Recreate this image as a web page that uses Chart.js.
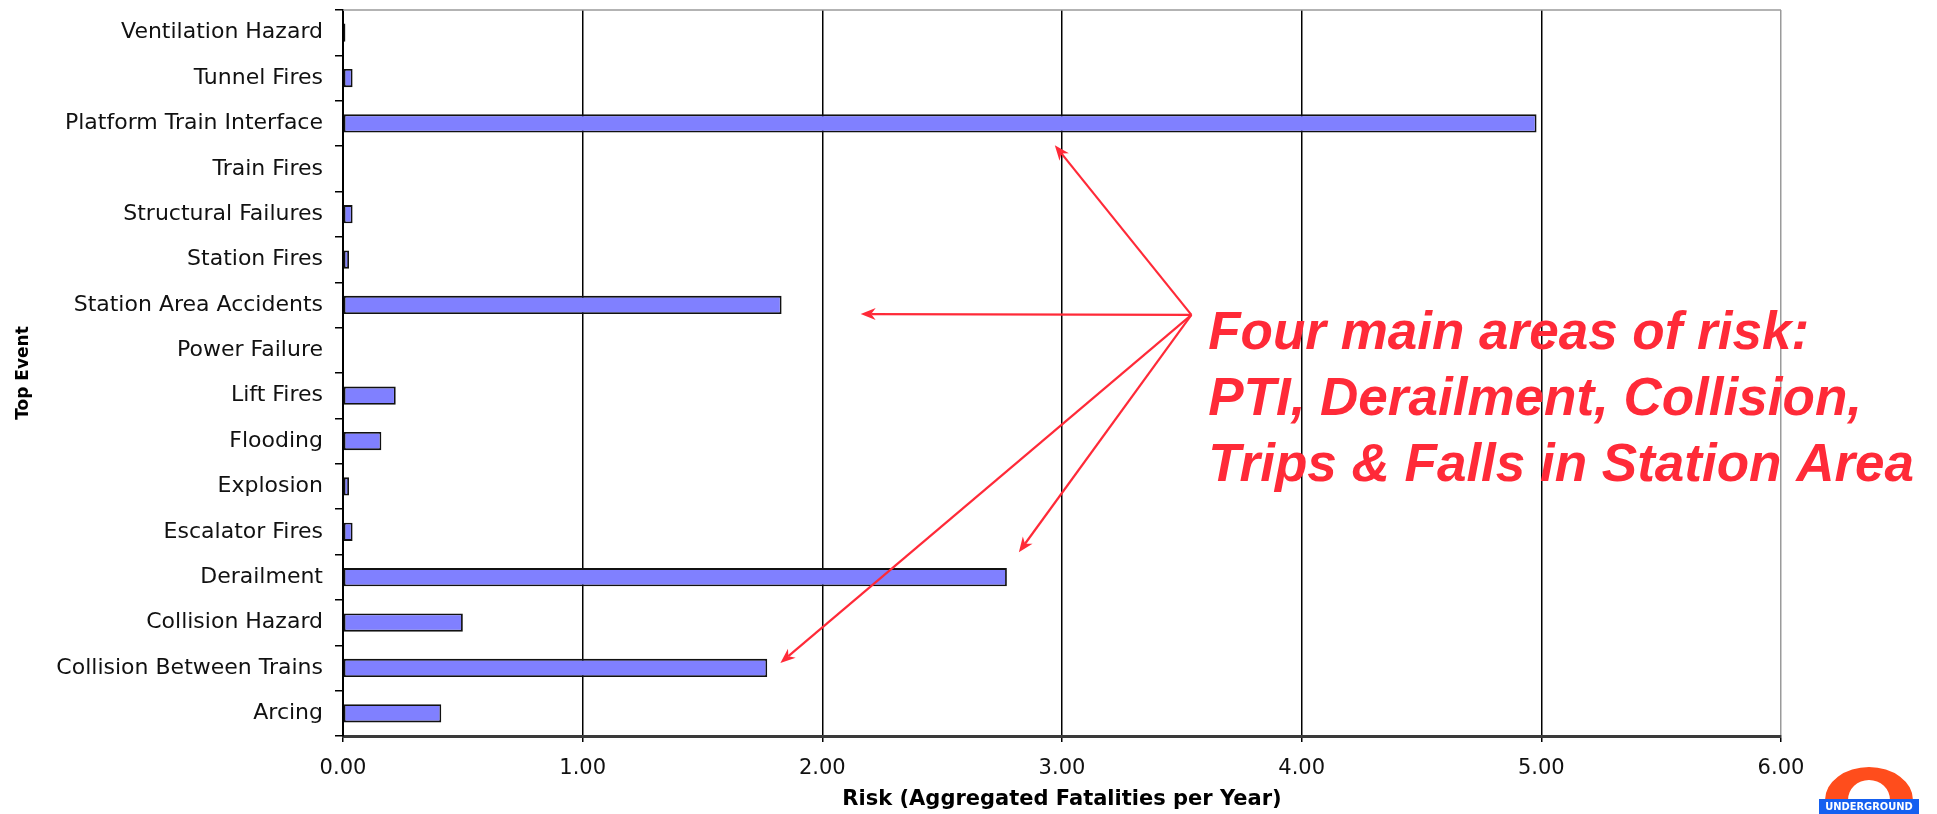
<!DOCTYPE html>
<html>
<head>
<meta charset="UTF-8">
<title>Top Event Risk</title>
<style>
  html, body { margin: 0; padding: 0; background: #fff; }
  #wrap { width: 1937px; height: 814px; position: relative; }
</style>
<script src="https://cdnjs.cloudflare.com/ajax/libs/Chart.js/4.4.1/chart.umd.min.js"></script>
</head>
<body>
<div id="wrap"><canvas id="riskChart"></canvas></div>
<script>
const events = ["Ventilation Hazard", "Tunnel Fires", "Platform Train Interface", "Train Fires",
    "Structural Failures", "Station Fires", "Station Area Accidents", "Power Failure", "Lift Fires",
    "Flooding", "Explosion", "Escalator Fires", "Derailment", "Collision Hazard",
    "Collision Between Trains", "Arcing"];
const risk = [0.01, 0.04, 4.98, 0, 0.04, 0.025, 1.83, 0, 0.22, 0.16, 0.025, 0.04, 2.77, 0.50, 1.77, 0.41];
const riskTicks = [0, 1, 2, 3, 4, 5, 6];

const noteLines = ["Four main areas of risk:", "PTI, Derailment, Collision,", "Trips & Falls in Station Area"];
// annotation anchors in axis units: [risk value, event index]
const noteAt = [3.61, 6.97];
const arrowFrom = [3.54, 6.22];
const arrowTips = [[2.97, 2.48], [2.16, 6.2], [2.82, 11.45], [1.825, 13.89]];
const noteColor = "#ff2a38";

const notePlugin = {
    id: "note",
    afterDraw(chart) {
        const { ctx, chartArea, scales: { x, y } } = chart;
        ctx.save();

        // top frame line
        ctx.strokeStyle = "#9a9a9a";
        ctx.lineWidth = 1.5;
        ctx.beginPath();
        ctx.moveTo(chartArea.left, chartArea.top);
        ctx.lineTo(chartArea.right, chartArea.top);
        ctx.stroke();

        // arrows
        const ox = x.getPixelForValue(arrowFrom[0]);
        const oy = y.getPixelForValue(arrowFrom[1]);
        ctx.strokeStyle = noteColor;
        ctx.fillStyle = noteColor;
        ctx.lineWidth = 2.2;
        arrowTips.forEach(([v, i]) => {
            const tx = x.getPixelForValue(v), ty = y.getPixelForValue(i);
            const a = Math.atan2(ty - oy, tx - ox);
            const c = Math.cos(a), s = Math.sin(a);
            const head = 15, half = 6;
            ctx.beginPath();
            ctx.moveTo(ox, oy);
            ctx.lineTo(tx - c * head * 0.7, ty - s * head * 0.7);
            ctx.stroke();
            ctx.beginPath();
            ctx.moveTo(tx, ty);
            ctx.lineTo(tx - head * c + half * s, ty - head * s - half * c);
            ctx.lineTo(tx - head * 0.7 * c, ty - head * 0.7 * s);
            ctx.lineTo(tx - head * c - half * s, ty - head * s + half * c);
            ctx.closePath();
            ctx.fill();
        });

        // note text
        ctx.font = 'italic bold 53px "Liberation Sans", Arial, sans-serif';
        ctx.textBaseline = "alphabetic";
        ctx.textAlign = "left";
        const nx = x.getPixelForValue(noteAt[0]);
        const ny = y.getPixelForValue(noteAt[1]);
        noteLines.forEach((t, k) => ctx.fillText(t, nx, ny + k * 66));

        // roundel logo, bottom right
        const cx = chart.width - 68, by = chart.height - 15;
        ctx.fillStyle = "#ff4d1c";
        ctx.beginPath();
        ctx.ellipse(cx, by + 1, 44, 33, 0, Math.PI, 2 * Math.PI);
        ctx.ellipse(cx, by + 1, 21, 20, 0, 2 * Math.PI, Math.PI, true);
        ctx.closePath();
        ctx.fill();
        ctx.fillStyle = "#1560f0";
        ctx.fillRect(cx - 50, by, 100, 15);
        ctx.fillStyle = "#fff";
        ctx.font = 'bold 11px "DejaVu Sans Condensed", "DejaVu Sans", sans-serif';
        ctx.textAlign = "center";
        ctx.textBaseline = "middle";
        ctx.fillText("UNDERGROUND", cx, by + 8);

        ctx.restore();
    }
};

const ctx = document.getElementById("riskChart").getContext("2d");
const riskChart = new Chart(ctx, {
    type: "bar",
    data: {
        labels: events,
        datasets: [{
            data: risk,
            backgroundColor: "#8080ff",
            borderColor: "#111",
            borderWidth: 1.8,
            borderSkipped: false,
            categoryPercentage: 1,
            barPercentage: 0.4,
        }],
    },
    options: {
        indexAxis: "y",
        responsive: true,
        maintainAspectRatio: false,
        animation: false,
        layout: { padding: { top: 10, right: 156, left: 0, bottom: 0 } },
        plugins: { legend: { display: false }, tooltip: { enabled: false } },
        scales: {
            x: {
                min: 0,
                max: 6,
                afterBuildTicks: s => { s.ticks = riskTicks.map(v => ({ value: v })); },
                ticks: {
                    callback: v => Number(v).toFixed(2),
                    font: { family: "DejaVu Sans", size: 21 },
                    color: "#111",
                    padding: 14,
                },
                grid: {
                    color: c => c.index === riskTicks.length - 1 ? "#9a9a9a" : "#000",
                    lineWidth: 1.5,
                    tickLength: 6,
                    tickColor: "#000",
                },
                border: { color: "#3a3a3a", width: 3 },
                title: {
                    display: true,
                    text: "Risk (Aggregated Fatalities per Year)",
                    font: { family: "DejaVu Sans", size: 21, weight: "bold" },
                    color: "#000",
                    padding: { top: 0, bottom: 2 },
                },
                afterFit: s => { s.height = 78; s.paddingLeft = 0; s.paddingRight = 0; },
            },
            y: {
                ticks: {
                    font: { family: "DejaVu Sans", size: 22 },
                    color: "#111",
                    padding: 12,
                    autoSkip: false,
                },
                grid: { drawOnChartArea: false, tickLength: 8, tickColor: "#000", lineWidth: 1.5 },
                border: { color: "#000", width: 2 },
                title: {
                    display: true,
                    text: "Top Event",
                    font: { family: "DejaVu Sans", size: 17, weight: "bold" },
                    color: "#000",
                    padding: { top: 13, bottom: 0 },
                },
                afterFit: s => { s.width = 343; s.paddingTop = 0; s.paddingBottom = 0; },
            },
        },
    },
    plugins: [notePlugin],
});
</script>
</body>
</html>
